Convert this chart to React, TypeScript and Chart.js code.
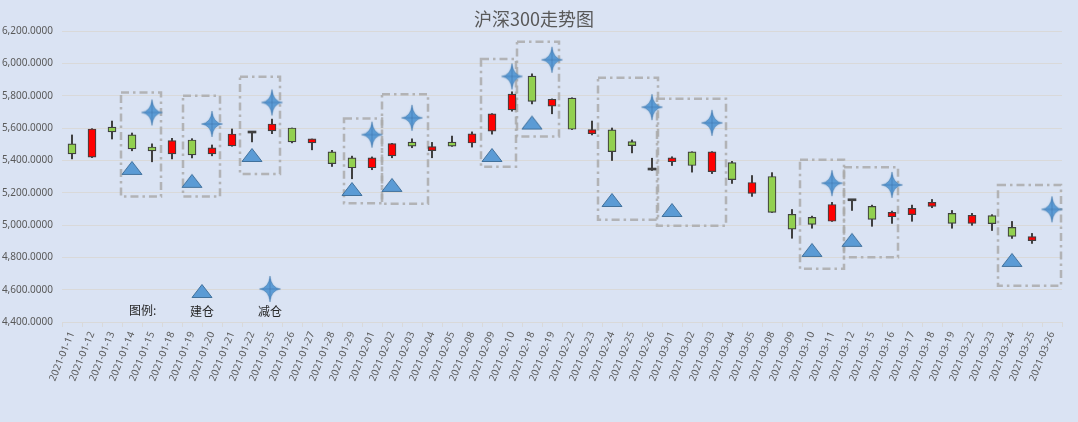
import { useEffect, useRef } from 'react'
import { Chart, registerables } from 'chart.js'

Chart.register(...registerables)

const dates = [
  '2021-01-11', '2021-01-12', '2021-01-13', '2021-01-14', '2021-01-15', '2021-01-18', '2021-01-19',
  '2021-01-20', '2021-01-21', '2021-01-22', '2021-01-25', '2021-01-26', '2021-01-27', '2021-01-28',
  '2021-01-29', '2021-02-01', '2021-02-02', '2021-02-03', '2021-02-04', '2021-02-05', '2021-02-08',
  '2021-02-09', '2021-02-10', '2021-02-18', '2021-02-19', '2021-02-22', '2021-02-23', '2021-02-24',
  '2021-02-25', '2021-02-26', '2021-03-01', '2021-03-02', '2021-03-03', '2021-03-04', '2021-03-05',
  '2021-03-08', '2021-03-09', '2021-03-10', '2021-03-11', '2021-03-12', '2021-03-15', '2021-03-16',
  '2021-03-17', '2021-03-18', '2021-03-19', '2021-03-22', '2021-03-23', '2021-03-24', '2021-03-25',
  '2021-03-26',
]

const opens = [
  5502, 5420, 5606, 5557, 5471, 5440, 5526, 5440, 5489, 5569, 5582, 5600, 5508, 5452, 5415, 5354, 5427,
  5497, 5460, 5497, 5507, 5581, 5712, 5921, 5735, 5785, 5565, 5588, 5516, 5340, 5391, 5452, 5330, 5386,
  5195, 5300, 5066, 5047, 5023, 5150, 5115, 5051, 5064, 5115, 5072, 5010, 5058, 4985, 4903, null,
]
const highs = [
  5557, 5596, 5643, 5569, 5502, 5536, 5534, 5495, 5594, 5571, 5655, 5600, 5532, 5462, 5426, 5421, 5505,
  5533, 5511, 5550, 5576, 5689, 5824, 5935, 5780, 5787, 5643, 5600, 5526, 5413, 5422, 5453, 5454, 5394,
  5306, 5324, 5096, 5055, 5140, 5152, 5123, 5086, 5123, 5158, 5090, 5072, 5064, 5022, 4948, null,
]
const lows = [
  5409, 5417, 5532, 5459, 5391, 5409, 5415, 5428, 5487, 5514, 5565, 5508, 5465, 5362, 5286, 5342, 5416,
  5478, 5416, 5486, 5482, 5562, 5704, 5749, 5688, 5590, 5557, 5399, 5446, 5337, 5368, 5327, 5318, 5257,
  5177, 5077, 4918, 4980, 5022, 5090, 4992, 5010, 5023, 5107, 4980, 4998, 4966, 4917, 4886, null,
]
const closes = [
  5440, 5594, 5576, 5471, 5458, 5522, 5434, 5477, 5563, 5569, 5625, 5514, 5526, 5379, 5354, 5415, 5503,
  5488, 5478, 5488, 5564, 5687, 5810, 5765, 5778, 5592, 5584, 5454, 5491, 5340, 5413, 5368, 5453, 5281,
  5263, 5078, 4974, 5004, 5127, 5150, 5035, 5078, 5103, 5140, 5010, 5060, 5009, 4929, 4923, null,
]

// 建仓 (triangles) and 减仓 (stars)
const buyDates = [
  '2021-01-14', '2021-01-19', '2021-01-22', '2021-01-29', '2021-02-02', '2021-02-09',
  '2021-02-18', '2021-02-24', '2021-03-01', '2021-03-10', '2021-03-12', '2021-03-24',
]
const buyLevels = [5353, 5273, 5433, 5223, 5248, 5433, 5634, 5155, 5093, 4846, 4908, 4784]
const sellDates = [
  '2021-01-15', '2021-01-20', '2021-01-25', '2021-02-01', '2021-02-03', '2021-02-10',
  '2021-02-19', '2021-02-26', '2021-03-03', '2021-03-11', '2021-03-16', '2021-03-26',
]
const sellLevels = [5696, 5625, 5758, 5559, 5663, 5919, 6022, 5729, 5632, 5259, 5248, 5097]

// dashed frames, in category index units / index values
const boxFrom = [2.45, 5.55, 8.4, 13.6, 15.5, 20.45, 22.25, 26.3, 29.25, 36.4, 38.6, 46.3]
const boxTo = [4.45, 7.4, 10.4, 15.5, 17.8, 22.2, 24.35, 29.3, 32.7, 38.6, 41.3, 49.45]
const boxTop = [5819, 5800, 5917, 5658, 5809, 6027, 6134, 5911, 5781, 5403, 5357, 5248]
const boxBottom = [5176, 5176, 5316, 5135, 5131, 5361, 5547, 5032, 4996, 4729, 4801, 4624]

const yMin = 4400
const yMax = 6200
const yStep = 200

const BG = '#DAE3F3'
const GRID = '#D9D9D9'
const UP = '#FF0000'
const DOWN = '#92D050'
const EDGE = '#404040'

function makeTriangle() {
  const c = document.createElement('canvas')
  c.width = 22
  c.height = 16
  const g = c.getContext('2d')!
  g.beginPath()
  g.moveTo(11, 1.5)
  g.lineTo(21, 14.5)
  g.lineTo(1, 14.5)
  g.closePath()
  g.fillStyle = '#5B9BD5'
  g.fill()
  g.lineWidth = 1
  g.strokeStyle = '#41719C'
  g.stroke()
  return c
}

function makeStar() {
  const c = document.createElement('canvas')
  c.width = 30
  c.height = 34
  const g = c.getContext('2d')!
  const cx = 15
  const cy = 17
  const h = 13
  const w = 10.5
  const k = 1.0
  g.beginPath()
  g.moveTo(cx, cy - h)
  g.quadraticCurveTo(cx + k, cy - k, cx + w, cy)
  g.quadraticCurveTo(cx + k, cy + k, cx, cy + h)
  g.quadraticCurveTo(cx - k, cy + k, cx - w, cy)
  g.quadraticCurveTo(cx - k, cy - k, cx, cy - h)
  g.closePath()
  g.shadowColor = 'rgba(91,155,213,0.6)'
  g.shadowBlur = 2
  g.fillStyle = '#5B9BD5'
  g.fill()
  g.shadowBlur = 0
  g.strokeStyle = 'rgba(65,113,156,0.7)'
  g.lineWidth = 0.6
  g.stroke()
  g.beginPath()
  g.moveTo(cx, cy - h + 3)
  g.lineTo(cx, cy + h - 3)
  g.moveTo(cx - w + 3, cy)
  g.lineTo(cx + w - 3, cy)
  g.strokeStyle = 'rgba(50,100,160,0.5)'
  g.lineWidth = 0.8
  g.stroke()
  return c
}

function fmt(v: number) {
  return v.toLocaleString('en-US', { minimumFractionDigits: 4, maximumFractionDigits: 4 })
}

export default function App() {
  const chartRef = useRef<HTMLCanvasElement>(null)
  const chartInstance = useRef<Chart | null>(null)

  useEffect(() => {
    document.body.style.margin = '0'
    document.body.style.background = BG
    if (!chartRef.current) return
    if (chartInstance.current) chartInstance.current.destroy()

    const tri = makeTriangle()
    const star = makeStar()

    // regular bodies and flat (open == close) bodies are kept apart
    const bodies = opens.map((o, i) =>
      o == null || o === closes[i] ? null : [Math.min(o, closes[i] as number), Math.max(o, closes[i] as number)]
    )
    const flats = opens.map((o, i) => (o != null && o === closes[i] ? [o, closes[i]] : null))
    const bodyColors = opens.map((o, i) => ((closes[i] as number) > (o as number) ? UP : DOWN))
    const wicks = lows.map((l, i) => (l == null ? null : [l, highs[i]]))

    const overlay = {
      id: 'overlay',
      beforeDatasetsDraw(chart: any) {
        const { ctx, scales } = chart
        const xs = scales.x
        const ys = scales.y
        ctx.save()
        ctx.strokeStyle = 'rgba(170,170,170,0.85)'
        ctx.lineWidth = 2.5
        ctx.setLineDash([8, 4, 2.5, 4])
        boxFrom.forEach((f, i) => {
          const x1 = xs.getPixelForValue(f)
          const x2 = xs.getPixelForValue(boxTo[i])
          const y1 = ys.getPixelForValue(boxTop[i])
          const y2 = ys.getPixelForValue(boxBottom[i])
          ctx.strokeRect(x1, y1, x2 - x1, y2 - y1)
        })
        ctx.restore()
      },
      afterDraw(chart: any) {
        const { ctx, chartArea, width } = chart
        ctx.save()
        ctx.fillStyle = '#595959'
        ctx.font = '18px "Noto Sans CJK SC"'
        ctx.textAlign = 'center'
        ctx.textBaseline = 'middle'
        ctx.fillText('沪深300走势图', width / 2 - 5, 19)

        const base = chartArea.bottom - 7
        ctx.fillStyle = '#262626'
        ctx.font = '12px "Noto Sans CJK SC"'
        ctx.textBaseline = 'alphabetic'
        ctx.textAlign = 'left'
        ctx.fillText('图例:', chartArea.left + 67, base)
        ctx.textAlign = 'center'
        ctx.fillText('建仓', chartArea.left + 140, base + 1)
        ctx.fillText('减仓', chartArea.left + 208, base + 1)
        ctx.drawImage(tri, chartArea.left + 140 - tri.width / 2, chartArea.bottom - 31 - tri.height / 2)
        ctx.drawImage(star, chartArea.left + 208 - star.width / 2, chartArea.bottom - 33 - star.height / 2)
        ctx.restore()
      },
    }

    chartInstance.current = new Chart(chartRef.current, {
      type: 'bar',
      data: {
        labels: dates,
        datasets: [
          {
            type: 'line',
            label: '建仓',
            data: buyDates.map((d, i) => ({ x: d, y: buyLevels[i] })),
            showLine: false,
            pointStyle: tri,
            pointRadius: 10,
            order: 0,
          } as any,
          {
            type: 'line',
            label: '减仓',
            data: sellDates.map((d, i) => ({ x: d, y: sellLevels[i] })),
            showLine: false,
            pointStyle: star,
            pointRadius: 12,
            order: 0,
          } as any,
          {
            label: 'body',
            data: bodies as any,
            backgroundColor: bodyColors,
            borderColor: EDGE,
            borderWidth: 1.2,
            borderSkipped: false,
            barThickness: 8,
            minBarLength: 4,
            grouped: false,
            order: 1,
          },
          {
            label: 'flat',
            data: flats as any,
            backgroundColor: EDGE,
            borderWidth: 0,
            barThickness: 8,
            minBarLength: 2,
            grouped: false,
            order: 1,
          },
          {
            label: 'wick',
            data: wicks as any,
            backgroundColor: EDGE,
            borderWidth: 0,
            barThickness: 1.4,
            grouped: false,
            order: 2,
          },
        ],
      },
      options: {
        responsive: false,
        animation: false,
        layout: { padding: { top: 31, right: 16, left: 0, bottom: 0 } },
        plugins: {
          legend: { display: false },
          title: { display: false },
          tooltip: { enabled: false },
        },
        scales: {
          x: {
            type: 'category',
            offset: true,
            grid: {
              offset: true,
              drawOnChartArea: false,
              drawTicks: true,
              tickLength: 5,
              color: GRID,
            },
            border: { display: true, color: GRID },
            ticks: {
              autoSkip: false,
              minRotation: 68,
              maxRotation: 68,
              padding: 3,
              color: '#595959',
              font: { family: 'Noto Sans', size: 10 },
            },
            afterFit(scale: any) {
              scale.height = 100
            },
          },
          y: {
            min: yMin,
            max: yMax,
            grid: { color: GRID, drawTicks: false },
            border: { display: false },
            ticks: {
              stepSize: yStep,
              padding: 9,
              color: '#595959',
              font: { family: 'Noto Sans', size: 10 },
              callback: (v: any) => fmt(Number(v)),
            },
            afterFit(scale: any) {
              scale.width = 62
            },
          },
        },
      },
      plugins: [overlay],
    })

    return () => {
      if (chartInstance.current) {
        chartInstance.current.destroy()
        chartInstance.current = null
      }
    }
  }, [])

  return (
    <div style={{ width: 1078, height: 422, background: BG }}>
      <canvas ref={chartRef} width={1078} height={422} />
    </div>
  )
}
